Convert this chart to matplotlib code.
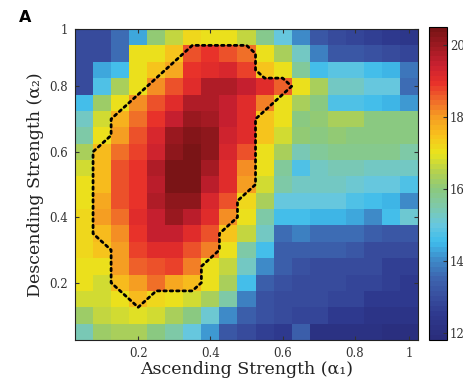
import numpy as np
import matplotlib
matplotlib.use("Agg")
import matplotlib.pyplot as plt
from matplotlib.colors import LinearSegmentedColormap

# heatmap values, rows listed top (alpha2 high) to bottom, columns alpha1 low -> high
rows_top_down = [
    [13.0, 13.0, 13.7, 14.3, 16.1, 16.6, 17.2, 17.1, 17.0, 16.6, 15.8, 15.0, 14.0, 13.2, 13.0, 12.8, 12.7, 12.5, 12.4],
    [13.0, 13.0, 13.6, 17.1, 17.1, 17.4, 18.6, 18.9, 18.7, 18.4, 17.1, 16.3, 15.3, 13.9, 13.2, 13.2, 13.1, 13.0, 12.8],
    [13.0, 14.3, 14.6, 17.1, 17.4, 17.9, 18.9, 19.1, 19.2, 18.8, 17.4, 17.0, 15.7, 14.6, 14.9, 14.8, 14.6, 14.5, 13.8],
    [13.0, 14.7, 16.3, 17.1, 18.1, 18.7, 19.1, 19.7, 19.7, 19.5, 19.1, 18.5, 17.1, 16.3, 15.3, 15.2, 15.0, 15.0, 13.6],
    [14.6, 16.2, 17.1, 18.1, 18.7, 19.1, 19.8, 19.8, 19.5, 19.1, 18.3, 17.1, 16.4, 16.0, 14.7, 14.7, 14.6, 14.5, 14.2],
    [15.2, 16.7, 17.7, 18.4, 19.0, 19.5, 20.0, 19.9, 19.5, 19.1, 17.4, 17.0, 16.0, 16.1, 16.3, 16.3, 16.0, 16.0, 16.0],
    [15.6, 17.1, 18.0, 18.7, 19.2, 20.0, 20.3, 20.1, 19.3, 19.1, 17.4, 16.8, 16.1, 16.0, 16.1, 16.0, 16.0, 16.0, 16.0],
    [16.3, 17.6, 18.4, 18.8, 19.4, 20.2, 20.4, 20.1, 19.2, 18.7, 17.1, 16.4, 15.4, 15.7, 15.8, 15.8, 15.8, 15.8, 15.6],
    [16.7, 17.6, 18.6, 19.0, 19.8, 20.4, 20.4, 19.9, 19.1, 18.1, 17.0, 15.7, 14.7, 15.3, 15.4, 15.4, 15.3, 15.3, 15.2],
    [17.1, 17.6, 18.6, 19.0, 19.6, 20.4, 20.4, 19.6, 19.1, 18.0, 16.8, 15.6, 15.2, 15.2, 15.2, 15.1, 15.0, 15.0, 14.7],
    [17.1, 17.9, 18.6, 19.0, 19.8, 20.2, 20.2, 19.2, 18.7, 17.2, 16.3, 15.0, 15.0, 15.0, 15.0, 14.7, 14.6, 14.4, 14.1],
    [17.2, 18.0, 18.4, 19.1, 19.5, 20.0, 19.6, 19.1, 18.1, 17.0, 15.6, 14.6, 14.6, 14.5, 14.5, 14.3, 14.0, 14.6, 15.1],
    [17.2, 17.6, 18.1, 19.0, 19.5, 19.5, 19.1, 18.7, 17.4, 16.6, 15.2, 13.6, 13.9, 13.7, 13.7, 13.6, 13.4, 13.2, 13.2],
    [17.2, 17.4, 18.0, 18.8, 19.1, 19.1, 18.7, 18.2, 17.1, 15.6, 14.6, 13.4, 13.4, 13.4, 13.3, 13.2, 13.0, 13.0, 13.0],
    [17.1, 17.1, 18.0, 18.5, 18.7, 18.8, 18.2, 17.1, 16.6, 15.2, 14.0, 13.3, 13.1, 13.0, 13.0, 13.0, 13.0, 12.7, 12.7],
    [17.0, 16.8, 17.6, 18.0, 18.4, 17.9, 17.6, 17.1, 16.4, 14.6, 13.4, 13.1, 13.0, 13.0, 12.9, 12.8, 12.8, 12.7, 12.6],
    [16.7, 16.7, 17.1, 17.6, 17.2, 17.0, 16.7, 16.4, 15.6, 13.9, 13.1, 13.0, 13.0, 13.0, 12.8, 12.8, 12.6, 12.6, 12.5],
    [16.2, 16.6, 16.7, 16.9, 16.8, 16.4, 16.0, 15.1, 14.0, 13.3, 13.1, 13.0, 12.8, 12.8, 12.5, 12.5, 12.3, 12.3, 12.3],
    [15.4, 16.2, 16.3, 16.4, 16.0, 15.6, 15.0, 14.2, 13.2, 13.0, 12.7, 12.5, 13.3, 12.2, 12.2, 12.1, 12.1, 12.0, 12.0],
]
threshold = 17.5

x_tick_idx = [4, 8, 12, 16, 19]
x_tick_labels = ['0.2', '0.4', '0.6', '0.8', '1']
y_tick_idx = [4, 8, 12, 16, 19.5]
y_tick_labels = ['0.2', '0.4', '0.6', '0.8', '1']
cbar_ticks = [12, 14, 16, 18, 20]
vmin, vmax = 11.8, 20.5

Z = np.array(rows_top_down)[::-1]   # row 0 = bottom
n_rows, n_cols = Z.shape
cols = np.arange(1, n_cols + 1)
rows = np.arange(1, n_rows + 1)

# colour ramp picked off the reference colour bar
anchors = [
    (11.8, '#2a2d7c'), (12.5, '#2f3a8f'), (13.0, '#3950a0'), (13.5, '#3d66b0'),
    (14.0, '#3e8ac8'), (14.5, '#3fbdec'), (15.0, '#68c8de'), (15.5, '#7ec9aa'),
    (16.0, '#8cc97c'), (16.5, '#b5d24e'), (17.0, '#eae41c'), (17.5, '#f8c21c'),
    (18.0, '#f6a022'), (18.5, '#f0682a'), (19.0, '#e8302a'), (19.5, '#c82030'),
    (20.0, '#a01a22'), (20.5, '#7a1416'),
]
cmap = LinearSegmentedColormap.from_list(
    'ref', [((v - vmin) / (vmax - vmin), c) for v, c in anchors], N=64)

plt.rcParams['font.family'] = ['DejaVu Serif']

fig = plt.figure(figsize=(4.64, 3.84), dpi=100)
ax = fig.add_axes([75 / 464, 44 / 384, 343 / 464, 311 / 384])
cax = fig.add_axes([429 / 464, 44 / 384, 18 / 464, 313 / 384])

im = ax.imshow(Z, cmap=cmap, vmin=vmin, vmax=vmax, origin='lower',
               extent=(0.5, n_cols + 0.5, 0.5, n_rows + 0.5), aspect='auto',
               interpolation='nearest')

# dotted outline of the region above threshold
mask = (Z >= threshold).astype(float)
cs = ax.contour(cols, rows, mask, levels=[0.5], colors='black',
                linewidths=2.0, linestyles=[(0, (0.9, 1.4))])
cs.set_capstyle('round')

ax.set_xlim(0.5, n_cols + 0.5)
ax.set_ylim(0.5, n_rows + 0.5)
ax.set_xticks(x_tick_idx)
ax.set_xticklabels(x_tick_labels)
ax.set_yticks(y_tick_idx)
ax.set_yticklabels(y_tick_labels)
ax.tick_params(direction='in', length=3, width=0.8, top=True, right=True,
               labelsize=8.5, colors='#333333', pad=5)
for s in ax.spines.values():
    s.set_linewidth(0.8)
    s.set_color('#222222')

ax.set_xlabel('Ascending Strength (α₁)', fontsize=12.5, color='#222222', labelpad=1)
ax.set_ylabel('Descending Strength (α₂)', fontsize=12.5, color='#222222', labelpad=4)

cb = fig.colorbar(im, cax=cax, ticks=cbar_ticks)
cb.ax.tick_params(direction='in', length=3, width=0.8, labelsize=8.5, colors='#333333', pad=2)
cb.outline.set_linewidth(0.8)

fig.text(19 / 464, 1 - 17 / 384, 'A', fontsize=11.5, fontweight='bold',
         family='DejaVu Sans', va='center', ha='left')

fig.savefig('out.png', dpi=100)
